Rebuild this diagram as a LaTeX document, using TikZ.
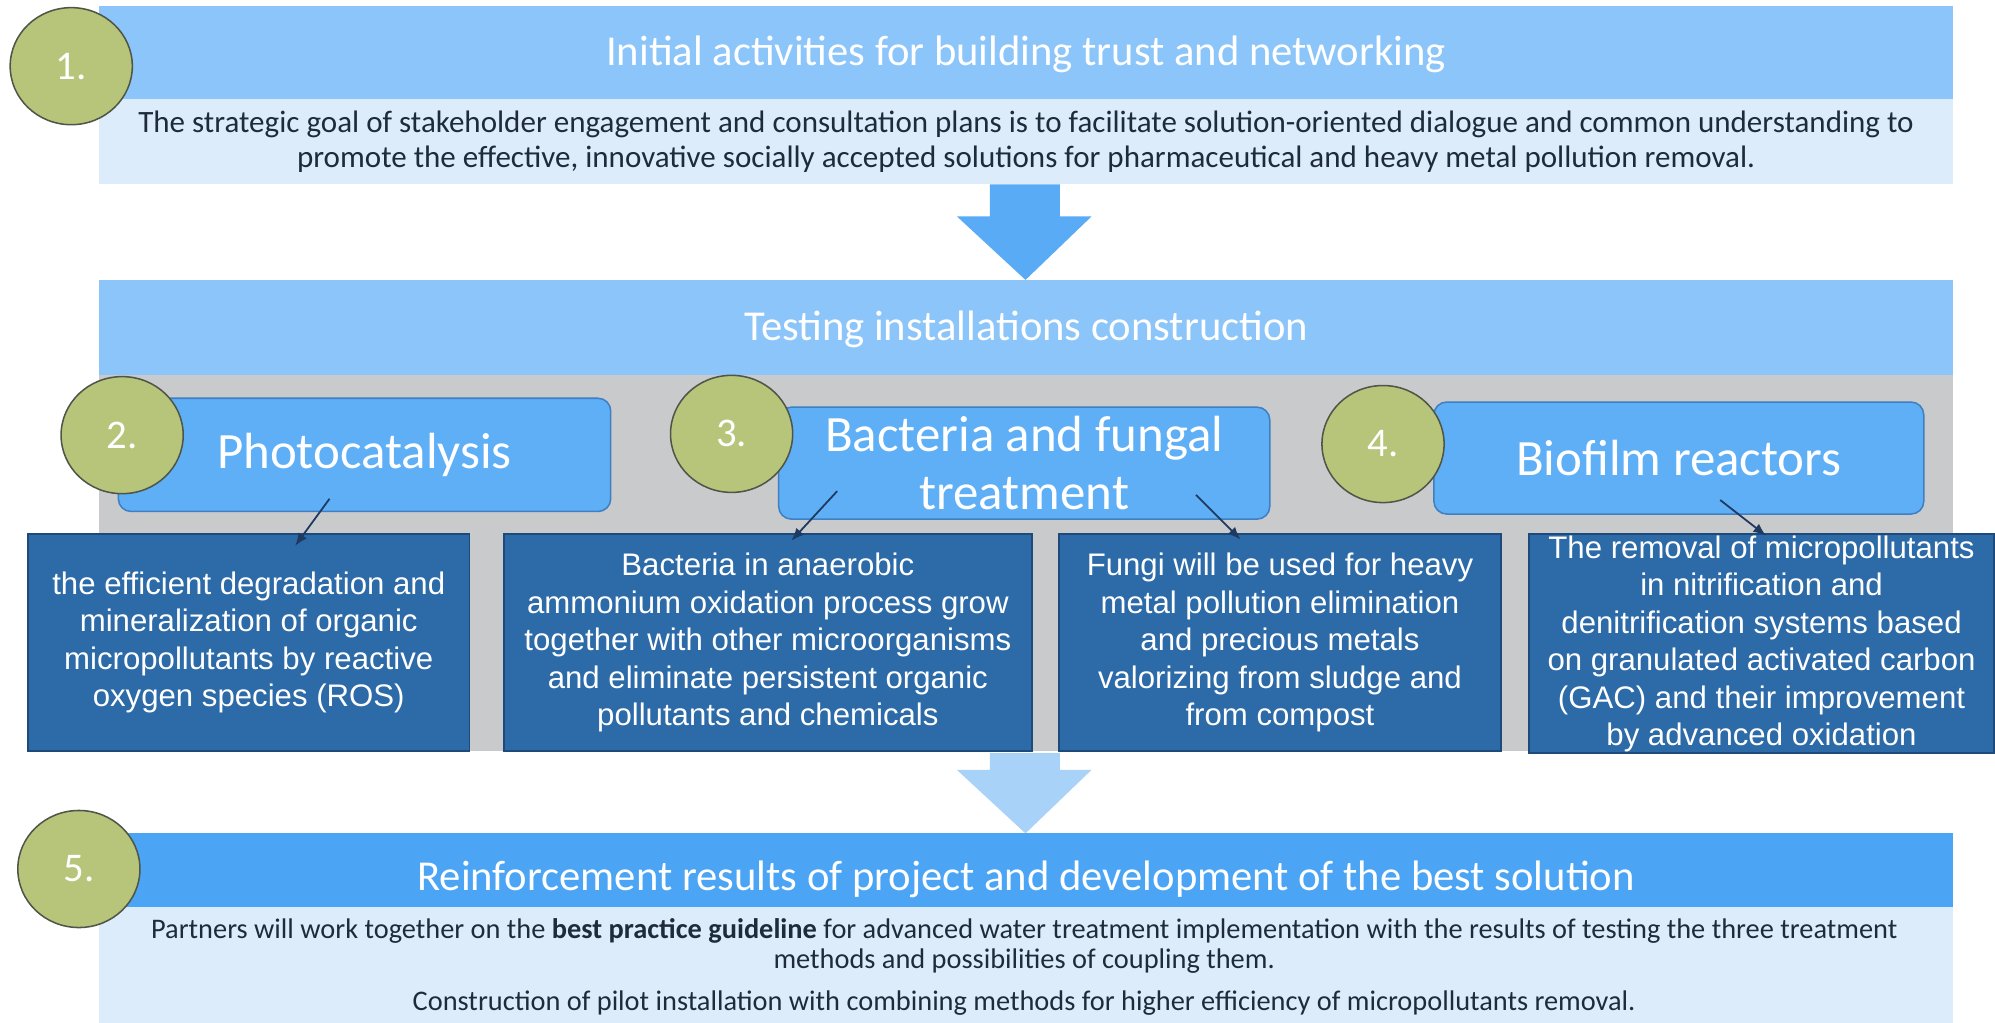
\documentclass[tikz,border=0pt]{standalone}
\usepackage{fontspec}
\setmainfont{Carlito}
\newfontfamily\arialfont{Liberation Sans}
\usetikzlibrary{arrows.meta,calc,shapes.geometric}

\definecolor{hdrlight}{HTML}{8CC5F9}
\definecolor{hdrmid}{HTML}{4BA5F4}
\definecolor{bodybg}{HTML}{DDECFB}
\definecolor{panelgray}{HTML}{C9CACC}
\definecolor{methodfill}{HTML}{5FAFF7}
\definecolor{methodline}{HTML}{3F7FC2}
\definecolor{detailfill}{HTML}{2C6AA8}
\definecolor{detailline}{HTML}{1D4A7A}
\definecolor{badgefill}{HTML}{B7C57A}
\definecolor{badgeline}{HTML}{4F5548}
\definecolor{inktext}{HTML}{1E2B3A}
\definecolor{arrowink}{HTML}{1F3A60}
\definecolor{flowA}{HTML}{5AABF5}
\definecolor{flowB}{HTML}{A9D2F9}

\tikzset{
  band/.style={rectangle, anchor=north west, minimum width=1457, inner sep=0, outer sep=0},
  title/.style={text=white, font=\fontsize{33.5}{40}\selectfont},
  bigtitle/.style={text=white, font=\fontsize{33.5}{40}\selectfont},
  bodytext/.style={text=inktext, align=center},
  methodbox/.style={rectangle, rounded corners=10, draw=methodline, line width=1.2,
    fill=methodfill, inner sep=0, text=white, align=center,
    font=\fontsize{40}{46}\selectfont},
  detailbox/.style={rectangle, draw=detailline, line width=1.5, fill=detailfill,
    inner sep=0, text=white, align=center,
    font=\arialfont\fontsize{24.5}{29.5}\selectfont},
  badge/.style={ellipse, draw=badgeline, line width=1.2, fill=badgefill,
    minimum width=96, minimum height=92, inner sep=0, text=white,
    font=\fontsize{32}{38}\selectfont},
  link/.style={draw=arrowink, line width=1.4, -{Latex[length=10,width=8]}},
}

\begin{document}
\begin{tikzpicture}[x=1pt,y=-1pt]
\useasboundingbox (0,0) rectangle (1568,804);
\fill[white] (0,0) rectangle (1568,804);

% ---- stage 1: trust and networking
\node[band, fill=hdrlight, minimum height=73] (h1) at (78,5) {};
\node[title] (h1t) at ($(h1.center)+(0,1)$) {Initial activities for building trust and networking};
\node[band, fill=bodybg, minimum height=67] (b1) at (78,78) {};
\node[bodytext, font=\fontsize{24.4}{28}\selectfont] (b1t) at (b1.center)
  {The strategic goal of stakeholder engagement and consultation plans is to facilitate solution-oriented dialogue and common understanding to\\
   promote the effective, innovative socially accepted solutions for pharmaceutical and heavy metal pollution removal.};

% flow arrow into stage 2
\fill[flowA] (778,145) -- (833,145) -- (833,170) -- (858,170) -- (806,220) -- (752,170) -- (778,170) -- cycle;

% ---- stage 2: testing installations
\node[band, fill=hdrlight, minimum height=75] (h2) at (78,220) {};
\node[title] (h2t) at ($(h2.center)+(0,1)$) {Testing installations construction};
\node[band, fill=panelgray, minimum height=295] (panel) at (78,295) {};

\node[methodbox, minimum width=387, minimum height=89] (pc) at (286.5,357.5) {Photocatalysis};
\node[methodbox, minimum width=386, minimum height=88] (bf) at (805,364) {Bacteria and fungal\\treatment};
\node[methodbox, minimum width=385, minimum height=88] (br) at (1319.5,360) {Biofilm reactors};

\node[detailbox, minimum width=347, minimum height=170] (dA) at (195.5,505)
  {the efficient degradation and\\mineralization of organic\\micropollutants by reactive\\oxygen species (ROS)};
\node[detailbox, minimum width=415, minimum height=170] (dB) at (603.5,505)
  {Bacteria in anaerobic\\ammonium oxidation process grow\\together with other microorganisms\\and eliminate persistent organic\\pollutants and chemicals};
\node[detailbox, minimum width=348, minimum height=170] (dC) at (1006,505)
  {Fungi will be used for heavy\\metal pollution elimination\\and precious metals\\valorizing from sludge and\\from compost};
\node[detailbox, minimum width=365, minimum height=172] (dD) at (1384.5,506)
  {The removal of micropollutants\\in nitrification and\\denitrification systems based\\on granulated activated carbon\\(GAC) and their improvement\\by advanced oxidation};

% links from each method to its outcomes
\coordinate (pcOut) at (259,392);  \coordinate (dAIn) at (232,429);
\coordinate (bfOutL) at (658,386); \coordinate (dBIn) at (622,425);
\coordinate (bfOutR) at (940,389); \coordinate (dCIn) at (975,424);
\coordinate (brOut) at (1352,393); \coordinate (dDIn) at (1388,421);
\draw[link] (pcOut) -- (dAIn);
\draw[link] (bfOutL) -- (dBIn);
\draw[link] (bfOutR) -- (dCIn);
\draw[link] (brOut) -- (dDIn);

% flow arrow into stage 5
\fill[flowB] (778,592) -- (833,592) -- (833,605) -- (858,605) -- (806,655) -- (752,605) -- (778,605) -- cycle;

% ---- stage 5: reinforcement of results
\node[band, fill=hdrmid, minimum height=58] (h5) at (78,655) {};
\node[bigtitle] (h5t) at ($(h5.center)+(0,7)$) {Reinforcement results of project and development of the best solution};
\node[band, fill=bodybg, minimum height=91] (b5) at (78,713) {};
\node[bodytext, font=\fontsize{22.3}{24}\selectfont] (b5t) at (805,760)
  {Partners will work together on the \textbf{best practice guideline} for advanced water treatment implementation with the results of testing the three treatment\\
   methods and possibilities of coupling them.\\[9pt]
   Construction of pilot installation with combining methods for higher efficiency of micropollutants removal.};

% ---- numbered badges
\node[badge] (n1) at (56,52) {1.};
\node[badge] (n2) at (96,342) {2.};
\node[badge] (n3) at (575,341) {3.};
\node[badge] (n4) at (1087,349) {4.};
\node[badge] (n5) at (62,683) {5.};
\end{tikzpicture}
\end{document}
